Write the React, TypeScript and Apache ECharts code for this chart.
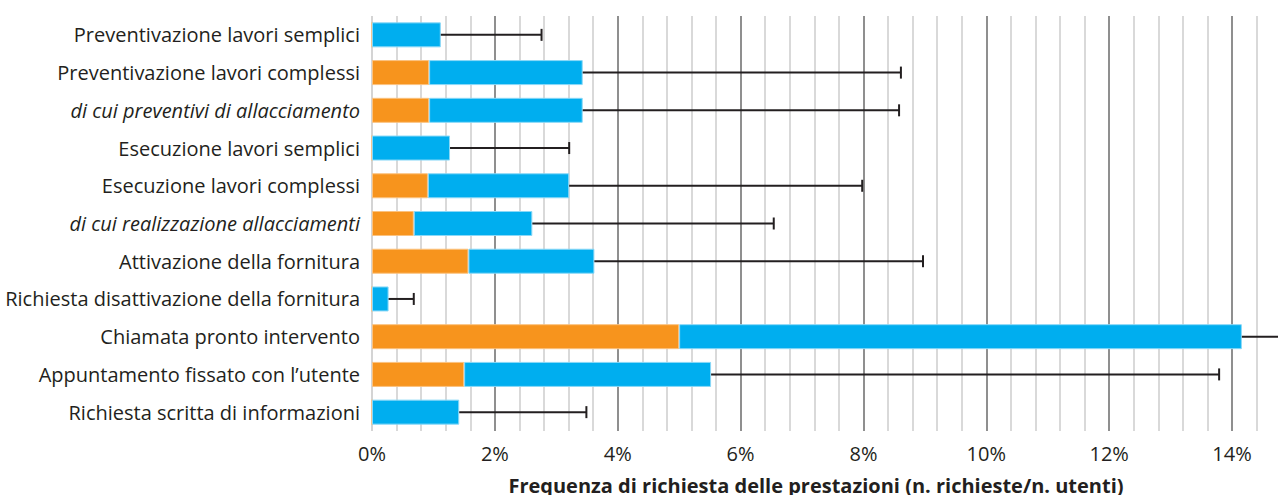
import React, { useEffect, useRef } from "react";
import * as echarts from "echarts";

const categories = [
  "Preventivazione lavori semplici",
  "Preventivazione lavori complessi",
  "di cui preventivi di allacciamento",
  "Esecuzione lavori semplici",
  "Esecuzione lavori complessi",
  "di cui realizzazione allacciamenti",
  "Attivazione della fornitura",
  "Richiesta disattivazione della fornitura",
  "Chiamata pronto intervento",
  "Appuntamento fissato con l’utente",
  "Richiesta scritta di informazioni",
];
const italicRows = [
  "di cui preventivi di allacciamento",
  "di cui realizzazione allacciamenti",
];
const orangeValues = [0, 0.93, 0.93, 0, 0.91, 0.68, 1.57, 0, 5.0, 1.5, 0];
const blueValues = [1.12, 2.5, 2.5, 1.27, 2.3, 1.93, 2.05, 0.27, 9.16, 4.02, 1.42];
const errorUpper = [2.76, 8.61, 8.58, 3.21, 7.98, 6.54, 8.97, 0.68, 15.4, 13.79, 3.49];
const xTicks = [0, 2, 4, 6, 8, 10, 12, 14];
const axisTitle = "Frequenza di richiesta delle prestazioni (n. richieste/n. utenti)";

const FONT = "'Open Sans', sans-serif";

export default function App() {
  const ref = useRef<HTMLDivElement>(null);
  useEffect(() => {
    if (!ref.current) return;
    const chart = echarts.init(ref.current, undefined, { renderer: "svg" });
    const totals = orangeValues.map((o, i) => o + blueValues[i]);
    const errData = errorUpper.map((e, i) => [totals[i], e, i]);
    const gridLeft = 372;
    const pxPerUnit = 61.43;
    const xMax = 15;
    chart.setOption({
      animation: false,
      textStyle: { fontFamily: FONT },
      grid: {
        left: gridLeft,
        top: 16,
        height: 415,
        width: xMax * pxPerUnit,
        containLabel: false,
        outerBoundsMode: "none",
      },
      xAxis: {
        type: "value",
        min: 0,
        max: xMax,
        interval: 2,
        axisLine: { show: false },
        axisTick: { show: false },
        axisLabel: {
          formatter: (v: number) => (xTicks.includes(v) ? `${v}%` : ""),
          fontSize: 20,
          color: "#231f20",
          margin: 12,
          fontFamily: FONT,
        },
        splitLine: {
          show: true,
          lineStyle: {
            color: ["#d4d4d4", "#8f8f8f", "#8f8f8f", "#8f8f8f", "#8f8f8f", "#8f8f8f", "#8f8f8f", "#8f8f8f"],
            width: 2,
          },
        },
        minorTick: { show: false, splitNumber: 5 },
        minorSplitLine: { show: true, lineStyle: { color: "#d9d9d9", width: 2 } },
      },
      yAxis: {
        type: "category",
        data: categories,
        inverse: true,
        axisLine: { show: false },
        axisTick: { show: false },
        axisLabel: {
          fontSize: 20,
          color: "#231f20",
          margin: 12,
          fontFamily: FONT,
          formatter: (v: string) => (italicRows.includes(v) ? `{i|${v}}` : v),
          rich: {
            i: { fontStyle: "italic", fontSize: 20, color: "#231f20", fontFamily: FONT },
          },
        },
      },
      series: [
        {
          type: "bar",
          stack: "tot",
          data: orangeValues,
          barWidth: 25,
          itemStyle: { color: "#F7941D", borderColor: "#FBC27F", borderWidth: 1 },
        },
        {
          type: "bar",
          stack: "tot",
          data: blueValues,
          barWidth: 25,
          itemStyle: { color: "#00AEEF", borderColor: "#8AD8F7", borderWidth: 1 },
        },
        {
          type: "custom",
          data: errData,
          encode: { x: [0, 1], y: 2 },
          renderItem: (params: any, api: any) => {
            const start = api.coord([api.value(0), api.value(2)]);
            const end = api.coord([api.value(1), api.value(2)]);
            const style = { stroke: "#231f20", lineWidth: 2 };
            return {
              type: "group",
              children: [
                { type: "line", shape: { x1: start[0], y1: start[1], x2: end[0], y2: end[1] }, style },
                { type: "line", shape: { x1: end[0], y1: end[1] - 6, x2: end[0], y2: end[1] + 6 }, style },
              ],
            };
          },
          z: 5,
        },
      ],
      graphic: [
        {
          type: "text",
          x: 816,
          y: 475,
          style: {
            text: axisTitle,
            fontSize: 20,
            fontWeight: "bold",
            fill: "#231f20",
            fontFamily: FONT,
            align: "center",
            verticalAlign: "top",
          },
        },
      ],
    });
    return () => chart.dispose();
  }, []);
  return (
    <div style={{ position: "absolute", left: 0, top: 0, width: 1278, height: 495, overflow: "hidden", background: "#fff" }}>
      <div ref={ref} style={{ width: 1300, height: 495 }} />
    </div>
  );
}
